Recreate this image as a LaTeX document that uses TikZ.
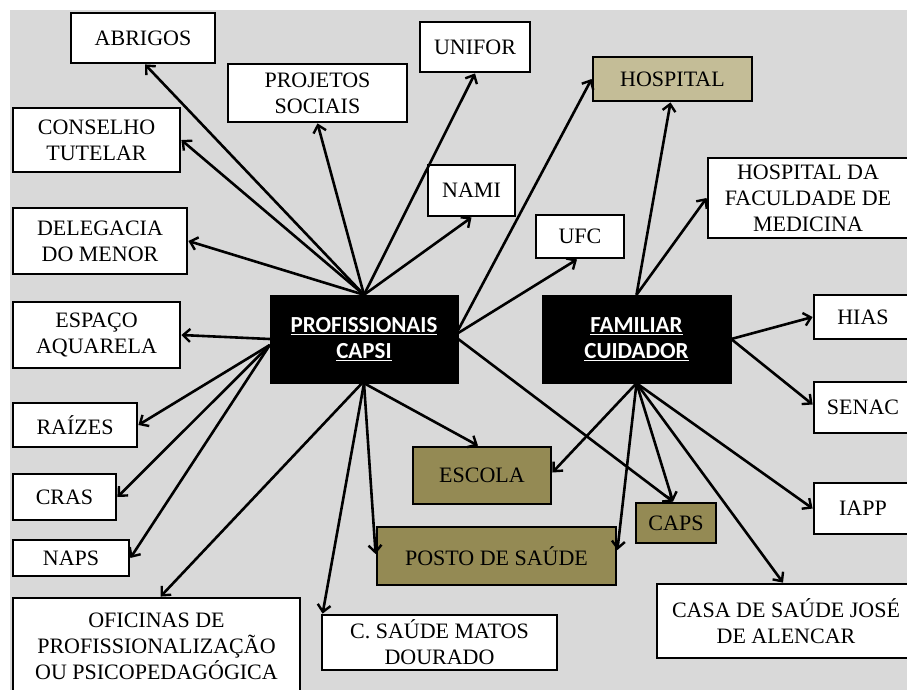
\documentclass[tikz,border=0pt]{standalone}
\usepackage{fontspec}
\usetikzlibrary{arrows.meta}
\newfontfamily\serfam{Liberation Serif}
\newfontfamily\hubfam{Carlito}
\newcommand\boxfont{\serfam\fontsize{22}{26}\selectfont}
\newcommand\hubfont{\hubfam\bfseries\fontsize{23}{26}\selectfont}
\definecolor{bgc}{HTML}{D9D9D9}
\definecolor{tanc}{HTML}{C4BD97}
\definecolor{olivec}{HTML}{948A54}
\tikzset{
  box/.style={draw=black, line width=2.8pt, fill=white, inner sep=0pt, align=center, font=\boxfont},
  tanbox/.style={box, fill=tanc},
  olivebox/.style={box, fill=olivec},
  hub/.style={draw=black, fill=black, inner sep=0pt, align=center, text=white, font=\hubfont},
  link/.style={line width=2.6pt, draw=black, -{Straight Barb[length=7pt,width=13pt,line width=2.4pt]}},
}
\begin{document}
\begin{tikzpicture}[x=1pt,y=-1pt]
\useasboundingbox (0,0) rectangle (907,689);
\fill[bgc] (10,10) rectangle (930,710);
% nodes
\node[box, minimum width=144, minimum height=50] (abr) at (143,38) {ABRIGOS};
\node[box, minimum width=179, minimum height=58] (proj) at (317.5,93) {PROJETOS\\SOCIAIS};
\node[box, minimum width=110, minimum height=50] (unifor) at (475,47) {UNIFOR};
\node[box, minimum width=167, minimum height=64] (cons) at (96.5,140) {CONSELHO\\TUTELAR};
\node[box, minimum width=174, minimum height=66] (deleg) at (100,241) {DELEGACIA\\DO MENOR};
\node[box, minimum width=87, minimum height=51] (nami) at (471.5,190.5) {NAMI};
\node[box, minimum width=88, minimum height=43] (ufc) at (580,236.5) {UFC};
\node[tanbox, minimum width=159, minimum height=44] (hosp) at (672.5,79) {HOSPITAL};
\node[box, minimum width=200, minimum height=80] (hfac) at (808,198) {HOSPITAL DA\\FACULDADE DE\\MEDICINA};
\node[hub, minimum width=188, minimum height=88] (prof) at (364,339) {\underline{PROFISSIONAIS}\\\underline{CAPSI}};
\node[hub, minimum width=189, minimum height=88] (fam) at (636.5,339) {\underline{FAMILIAR}\\\underline{CUIDADOR}};
\node[box, minimum width=167, minimum height=66] (esp) at (96.5,335) {ESPAÇO\\AQUARELA};
\node[box, minimum width=124, minimum height=44] (raiz) at (75,425) {RAÍZES};
\node[box, minimum width=103, minimum height=46] (cras) at (64.5,497) {CRAS};
\node[box, minimum width=116, minimum height=36] (naps) at (71,558) {NAPS};
\node[box, minimum width=287, minimum height=96] (ofic) at (156.5,646) {OFICINAS DE\\PROFISSIONALIZAÇÃO\\OU PSICOPEDAGÓGICA};
\node[box, minimum width=235, minimum height=55] (csaude) at (439.5,642.5) {C. SAÚDE MATOS\\DOURADO};
\node[olivebox, minimum width=138, minimum height=57] (escola) at (482,475.5) {ESCOLA};
\node[olivebox, minimum width=239, minimum height=58] (posto) at (496.5,556) {POSTO DE SAÚDE};
\node[olivebox, minimum width=80, minimum height=40] (caps) at (676,523) {CAPS};
\node[box, minimum width=98, minimum height=44] (hias) at (863,317) {HIAS};
\node[box, minimum width=98, minimum height=51] (senac) at (863,407.5) {SENAC};
\node[box, minimum width=98, minimum height=51] (iapp) at (863,508.5) {IAPP};
\node[box, minimum width=258, minimum height=74] (casa) at (786,621) {CASA DE SAÚDE JOSÉ\\DE ALENCAR};
% connectors from PROFISSIONAIS CAPSI
\draw[link] (prof.north) -- ([xshift=2pt]abr.south);
\draw[link] (prof.north) -- (cons.east);
\draw[link] (prof.north) -- (proj.south);
\draw[link] (prof.north) -- (deleg.east);
\draw[link] (prof.north) -- (unifor.south);
\draw[link] (prof.north) -- (nami.south);
\draw[link] ([yshift=9pt]prof.east) -- (hosp.west);
\draw[link] ([yshift=6pt]prof.east) -- ([xshift=-3pt]ufc.south);
\draw[link] (prof.east) -- ([xshift=-3pt]caps.north);
\draw[link] (prof.west) -- (esp.east);
\draw[link] ([yshift=-6pt]prof.west) -- (raiz.east);
\draw[link] ([yshift=-6pt]prof.west) -- (cras.east);
\draw[link] ([yshift=-6pt]prof.west) -- (naps.east);
\draw[link] ([xshift=-2pt]prof.south) -- ([xshift=4pt]ofic.north);
\draw[link] (prof.south) -- ([xshift=2pt]csaude.north west);
\draw[link] (prof.south) -- ([yshift=2pt]posto.west);
\draw[link] (prof.south) -- ([xshift=-4pt]escola.north);
% connectors from FAMILIAR CUIDADOR
\draw[link] (fam.north) -- ([xshift=-2pt]hosp.south);
\draw[link] (fam.north) -- (hfac.west);
\draw[link] (fam.east) -- (hias.west);
\draw[link] (fam.east) -- ([yshift=3pt]senac.west);
\draw[link] (fam.south) -- ([yshift=3pt]escola.east);
\draw[link] (fam.south) -- ([yshift=6pt]posto.east);
\draw[link] (fam.south) -- ([xshift=-3pt]caps.north);
\draw[link] (fam.south) -- ([xshift=-3pt]casa.north);
\draw[link] (fam.south) -- (iapp.west);
\end{tikzpicture}
\end{document}
